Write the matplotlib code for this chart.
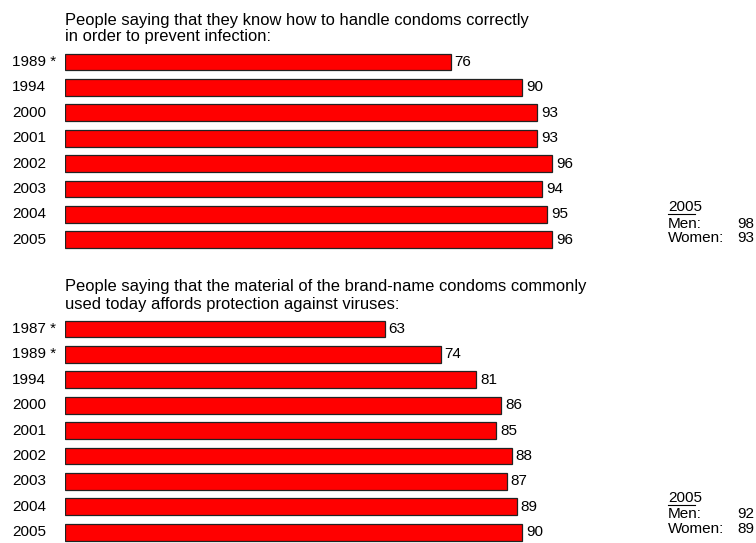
import matplotlib
matplotlib.use("Agg")
import matplotlib.pyplot as plt
from matplotlib.lines import Line2D
from matplotlib.transforms import blended_transform_factory

plt.rcParams['font.family'] = ['Liberation Sans', 'DejaVu Sans']

# survey data
years_handle = ["1989 *", "1994", "2000", "2001", "2002", "2003", "2004", "2005"]
vals_handle = [76, 90, 93, 93, 96, 94, 95, 96]
title_handle = ("People saying that they know how to handle condoms correctly\n"
                "in order to prevent infection:")
gender_handle = [("Men:", 98), ("Women:", 93)]

years_material = ["1987 *", "1989 *", "1994", "2000", "2001", "2002", "2003", "2004", "2005"]
vals_material = [63, 74, 81, 86, 85, 88, 87, 89, 90]
title_material = ("People saying that the material of the brand-name condoms commonly\n"
                  "used today affords protection against viruses:")
gender_material = [("Men:", 92), ("Women:", 89)]

W, H = 756, 543
fig = plt.figure(figsize=(W / 100, H / 100), dpi=100)

X0 = 64.6      # pixel position of value 0
PX_PER = 5.08  # pixels per percentage point
ROW = 25.4     # row spacing in pixels
FS = 11
FS_TITLE = 11.9


def px_axes(left, top, right, bottom):
    return fig.add_axes([left / W, 1 - bottom / H, (right - left) / W, (bottom - top) / H])


def panel(first_row_y, years, vals, title, title_y, gender, g_y):
    n = len(years)
    top = first_row_y - ROW / 2
    bottom = min(first_row_y + (n - 0.5) * ROW, H)
    ax = px_axes(X0, top, W, bottom)
    ax.set_xlim(0, (W - X0) / PX_PER)
    ax.set_ylim((bottom - first_row_y) / ROW, -0.5)
    ax.axis("off")

    ys = list(range(n))
    ax.barh(ys, vals, height=0.66, color="#ff0000", edgecolor="#222222", linewidth=0.9)
    for y, v in zip(ys, vals):
        ax.text(v + 0.8, y, str(v), va="center", ha="left", fontsize=FS)

    tr = blended_transform_factory(fig.transFigure, ax.transData)
    for y, lab in zip(ys, years):
        ax.text(12 / W, y, lab, transform=tr, va="center", ha="left", fontsize=FS)

    # two-line heading, one text per line to control spacing
    for i, line in enumerate(title.split("\n")):
        fig.text(X0 / W, 1 - (title_y + 17 * i) / H, line, va="center", ha="left",
                 fontsize=FS_TITLE)

    # 2005 breakdown by gender
    fig.text(668 / W, 1 - g_y / H, "2005", va="center", ha="left", fontsize=FS)
    fig.add_artist(Line2D([668 / W, 695 / W], [1 - (g_y + 6.5) / H] * 2,
                          color="black", linewidth=0.8))
    for i, (lab, v) in enumerate(gender):
        yy = 1 - (g_y + 16.5 + 14.5 * i) / H
        fig.text(668 / W, yy, lab, va="center", ha="left", fontsize=FS)
        fig.text(737 / W, yy, str(v), va="center", ha="left", fontsize=FS)


panel(62, years_handle, vals_handle, title_handle, 20, gender_handle, 207)
panel(329, years_material, vals_material, title_material, 287, gender_material, 498)

fig.savefig("out.png", dpi=100)
